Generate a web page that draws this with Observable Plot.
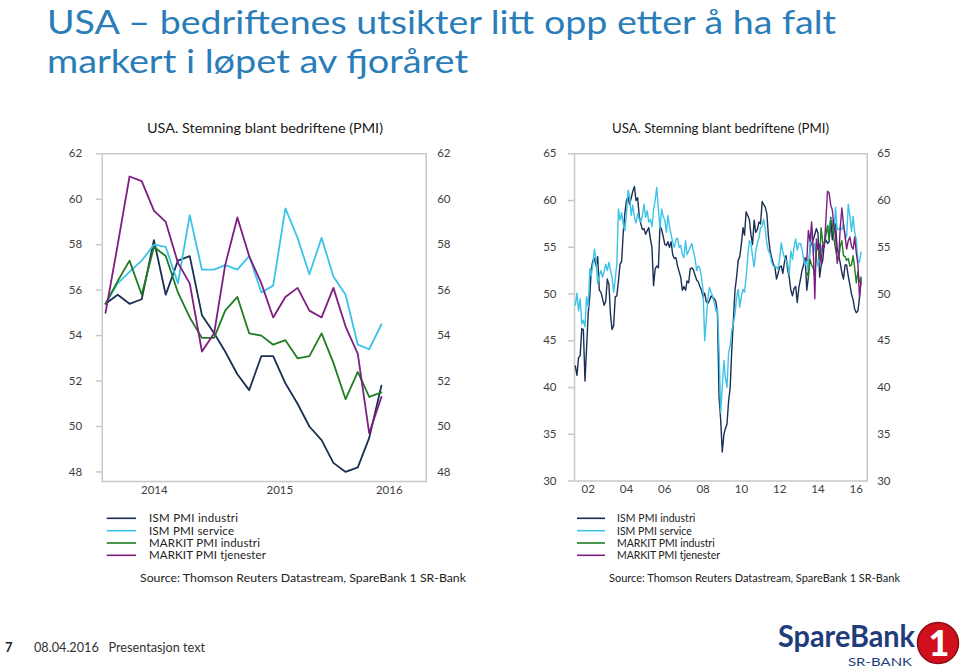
<!DOCTYPE html>
<html><head><meta charset="utf-8">
<script src="https://cdn.jsdelivr.net/npm/d3@7"></script>
<script src="https://cdn.jsdelivr.net/npm/@observablehq/plot@0.6"></script>
<style>
body{margin:0;background:#fff;width:960px;height:669px;position:relative;overflow:hidden;font-family:Lato,"Open Sans",sans-serif;}
.abs{position:absolute;}
</style></head><body>
<svg id="bg" class="abs" style="left:0;top:0" width="960" height="669"></svg>
<div id="left" class="abs" style="left:0;top:140px"></div>
<div id="right" class="abs" style="left:480px;top:140px"></div>
<script>
// ---------- DATA ----------
const pageTitle = ["USA – bedriftenes utsikter litt opp etter å ha falt", "markert i løpet av fjoråret"];
const chartTitle = "USA. Stemning blant bedriftene (PMI)";
const sourceText = "Source: Thomson Reuters Datastream, SpareBank 1 SR-Bank";
const footerNumber = "7";
const footerText = "08.04.2016   Presentasjon text";

const seriesNames = ["ISM PMI industri", "ISM PMI service", "MARKIT PMI industri", "MARKIT PMI tjenester"];
const seriesColors = ["#1b2f55", "#3cc3e8", "#1f7d22", "#7e1e80"];

// monthly values, ISM from Apr 2001 to Mar 2016
const ismStart = [2001, 3]; // April 2001 (month index 0-based)
const ismIndustri = [
  42.3, 41.3, 43.2, 43.4, 46.3, 46.2, 40.7, 44.2, 47.9,
  49.8, 52.7, 53.6, 53.8, 53.0, 54.0, 50.4, 50.2, 49.5, 48.8, 49.2, 51.6,
  51.0, 47.9, 46.2, 46.6, 49.7, 49.8, 51.4, 53.2, 53.5, 56.6, 58.6, 60.0,
  60.4, 59.6, 60.3, 61.0, 61.5, 60.0, 60.3, 58.3, 57.5, 56.9, 57.0, 56.4,
  56.8, 57.1, 55.9, 55.0, 50.9, 52.7, 53.0, 52.8, 57.3, 56.9, 56.2, 55.3,
  55.2, 55.6, 55.0, 55.6, 54.2, 53.8, 53.9, 53.0, 52.4, 51.8, 50.4, 50.8,
  50.4, 51.4, 51.2, 52.7, 52.8, 52.6, 52.0, 51.5, 51.3, 50.8, 50.4, 49.7,
  50.1, 49.2, 49.0, 49.3, 49.8, 49.6, 49.5, 49.2, 47.9, 39.0, 36.6, 33.1,
  35.0, 35.6, 36.1, 38.5, 40.0, 44.0, 47.2, 50.4, 51.8, 53.6, 54.0, 55.4,
  57.1, 56.3, 58.8, 58.4, 58.0, 56.4, 55.3, 57.9, 56.6, 56.9, 57.7, 57.5,
  59.9, 59.6, 59.3, 58.6, 56.1, 54.7, 53.9, 53.2, 52.9, 51.6, 52.2, 52.9,
  53.0, 52.2, 53.4, 54.1, 52.6, 51.8, 50.4, 49.8, 50.6, 50.8, 49.1, 50.7,
  51.6, 52.5, 53.1, 53.9, 50.4, 51.8, 55.0, 55.4, 55.8, 56.4, 57.0, 56.5,
  51.8, 53.0, 53.6, 55.4, 55.8, 55.4, 55.6, 58.2, 55.8, 57.3, 57.5, 54.9,
  54.1, 53.3, 52.3, 51.6, 53.1, 53.1, 51.9, 51.0, 50.0, 49.4, 48.4, 48.0,
  48.2, 49.5, 51.8
];
const ismService = [
  48.8, 50.1, 48.2, 49.5, 46.8, 47.2, 46.5, 49.7, 48.6,
  52.7, 52.0, 53.2, 54.8, 53.6, 51.1, 52.0, 52.5, 51.8, 52.4, 53.2, 52.5,
  53.4, 52.6, 51.8, 50.2, 51.6, 53.2, 59.1, 57.9, 58.7, 57.4, 56.8, 58.6,
  61.1, 60.5, 58.4, 59.5, 58.2, 57.6, 58.6, 58.0, 57.7, 58.4, 59.6, 58.2,
  58.9, 57.7, 58.0, 57.2, 59.0, 60.0, 61.4, 59.1, 57.0, 59.1, 58.3, 57.9,
  56.6, 58.4, 57.2, 56.4, 55.5, 55.0, 55.8, 56.0, 55.0, 55.2, 54.2, 53.9,
  55.7, 54.2, 54.6, 55.0, 55.4, 54.6, 53.8, 52.5, 53.0, 52.8, 51.8, 50.4,
  45.0, 47.2, 49.5, 50.7, 50.2, 49.8, 49.1, 48.2, 48.5, 44.0, 37.3, 40.1,
  42.9, 41.1, 40.0, 43.7, 44.5, 46.1, 46.8, 47.9, 49.6, 50.5, 48.6, 49.8,
  50.5, 50.2, 51.8, 53.9, 55.7, 55.5, 54.0, 52.9, 54.6, 55.4, 56.0, 57.1,
  57.3, 58.0, 57.0, 55.4, 54.6, 54.3, 53.4, 53.0, 52.9, 52.9, 52.6, 53.8,
  55.5, 54.5, 53.9, 53.6, 53.2, 52.1, 54.6, 53.7, 55.0, 55.9, 54.7, 55.4,
  55.4, 54.8, 53.8, 53.1, 53.7, 52.2, 55.4, 56.6, 54.2, 55.4, 53.9, 53.0,
  54.0, 54.6, 55.4, 55.4, 56.3, 56.8, 57.3, 58.0, 57.9, 56.3, 59.3, 56.9,
  56.9, 57.1, 56.9, 57.5, 55.9, 56.2, 59.6, 58.3, 56.7, 58.3, 56.6, 55.8,
  53.6, 53.4, 54.5
];
// Markit from May 2013 to Mar 2016
const markitStart = [2013, 4];
const markitIndustri = [
  52.3, 51.9, 53.7, 53.1, 52.8, 51.8, 54.7, 55.0,
  53.7, 57.1, 55.5, 55.4, 56.4, 57.3, 55.8, 57.9, 57.5, 55.9, 54.8, 53.9,
  53.9, 55.1, 55.7, 54.1, 54.0, 53.6, 53.8, 53.0, 53.1, 54.1, 52.8, 51.2,
  52.4, 51.3, 51.5
];
const markitTjenester = [
  53.6, 56.8, 55.6, 57.7, 55.0, 49.5, 55.9, 54.8,
  55.3, 53.2, 55.3, 55.0, 58.0, 61.0, 60.8, 59.5, 59.0, 57.2, 56.3, 53.3,
  54.1, 57.1, 59.2, 57.5, 56.3, 54.8, 55.7, 56.1, 55.1, 54.8, 56.1, 54.4,
  53.2, 49.7, 51.3
];

// left panel: last 24 months (from Apr 2014)
const leftFrom = [2014, 3];
const leftYTicks = [48, 50, 52, 54, 56, 58, 60, 62];
const leftYDomain = [47.58, 62];
const leftXDomain = ["2014-04-22T14:00Z", "2016-07-23T19:00Z"];
const leftXTicks = ["2014-09-02", "2015-07-18", "2016-04-21"];
const leftXLabels = ["2014", "2015", "2016"];

const rightYTicks = [30, 35, 40, 45, 50, 55, 60, 65];
const rightYDomain = [30, 65];
const rightXDomain = ["2001-04-15", "2016-07-27"];
const rightXTicks = ["2002-01-01", "2004-01-01", "2006-01-01", "2008-01-01", "2010-01-01", "2012-01-01", "2014-01-01", "2016-01-01"];
const rightXLabels = ["02", "04", "06", "08", "10", "12", "14", "16"];

// ---------- TABLE ----------
function rows(name, start, values) {
  const m0 = new Date(Date.UTC(start[0], start[1], 1));
  // monthly observations are stamped at month end (start of next month)
  return values.map((v, i) => ({series: name, month: d3.utcMonth.offset(m0, i), date: d3.utcMonth.offset(m0, i + 1), value: v}));
}
const all = [
  ...rows(seriesNames[0], ismStart, ismIndustri),
  ...rows(seriesNames[1], ismStart, ismService),
  ...rows(seriesNames[2], markitStart, markitIndustri),
  ...rows(seriesNames[3], markitStart, markitTjenester)
];
const leftCut = new Date(Date.UTC(leftFrom[0], leftFrom[1], 1));
const leftData = all.filter(d => d.month >= leftCut);

function panel({data, xDomain, xTicks, xLabels, yDomain, yTicks, margins, sw, tpL, tpR}) {
  const tks = xTicks.map(d => new Date(d));
  const lab = new Map(tks.map((d, i) => [+d, xLabels[i]]));
  return Plot.plot({
    width: 480, height: 361, ...margins,
    style: {fontFamily: "Lato, 'Open Sans', sans-serif", fontSize: "11.5px", color: "#404040", background: "transparent", overflow: "visible"},
    x: {type: "utc", domain: xDomain.map(d => new Date(d)), label: null},
    y: {domain: yDomain, label: null},
    color: {domain: seriesNames, range: seriesColors},
    marks: [
      Plot.frame({stroke: "#c8c8c8", strokeWidth: 1.5}),
      Plot.axisY({anchor: "left", ticks: yTicks, tickSize: 6, tickPadding: tpL, stroke: "#c8c8c8", strokeWidth: 1.5, fill: "#404040", label: null, tickFormat: d => String(d)}),
      Plot.axisY({anchor: "right", ticks: yTicks, tickSize: 0, tickPadding: tpR, fill: "#404040", label: null, tickFormat: d => String(d)}),
      Plot.axisX({ticks: tks, tickSize: 0, tickPadding: 4, fill: "#404040", label: null, tickFormat: d => lab.get(+d)}),
      Plot.line(data, {x: "date", y: "value", z: "series", stroke: "series", strokeWidth: sw, strokeLinejoin: "round"})
    ]
  });
}

document.getElementById("left").appendChild(panel({
  data: leftData, xDomain: leftXDomain, xTicks: leftXTicks, xLabels: leftXLabels,
  yDomain: leftYDomain, yTicks: leftYTicks,
  margins: {marginLeft: 101.7, marginRight: 54.3, marginTop: 13.3, marginBottom: 20},
  sw: 1.8, tpL: 14, tpR: 11
}));
document.getElementById("right").appendChild(panel({
  data: all, xDomain: rightXDomain, xTicks: rightXTicks, xLabels: rightXLabels,
  yDomain: rightYDomain, yTicks: rightYTicks,
  margins: {marginLeft: 94, marginRight: 93.3, marginTop: 13.3, marginBottom: 20.5},
  sw: 1.4, tpL: 12, tpR: 10
}));

// ---------- DECORATION (titles, legends, footer) ----------
const bg = d3.select("#bg");
const ff = "Lato, 'Open Sans', sans-serif";
bg.append("text").attr("x", 47).attr("y", 34).attr("font-family", ff).attr("font-size", 33).attr("fill", "#2a7db8")
  .attr("textLength", 789).attr("lengthAdjust", "spacingAndGlyphs").text(pageTitle[0]);
bg.append("text").attr("x", 47).attr("y", 73).attr("font-family", ff).attr("font-size", 33).attr("fill", "#2a7db8")
  .attr("textLength", 421).attr("lengthAdjust", "spacingAndGlyphs").text(pageTitle[1]);

[[147, 236], [612, 217]].forEach(([x, w]) => {
  bg.append("text").attr("x", x).attr("y", 133).attr("font-family", ff).attr("font-size", 14).attr("fill", "#1a1a1a")
    .attr("textLength", w).attr("lengthAdjust", "spacingAndGlyphs").text(chartTitle);
});

const legends = [
  {x1: 106.7, x2: 136, tx: 149, fs: 11.5, sx: 140, sw: 326, k: 1},
  {x1: 577, x2: 605, tx: 617, fs: 10.5, sx: 609, sw: 291, k: 0.88}
];
const labelW = [89, 85, 111, 117];
const rowY = [518.3, 530.7, 543, 555.3];
legends.forEach(L => {
  seriesNames.forEach((n, i) => {
    bg.append("line").attr("x1", L.x1).attr("x2", L.x2).attr("y1", rowY[i]).attr("y2", rowY[i])
      .attr("stroke", seriesColors[i]).attr("stroke-width", 1.6);
    bg.append("text").attr("x", L.tx).attr("y", rowY[i] + 4).attr("font-family", ff).attr("font-size", L.fs)
      .attr("fill", "#222").attr("textLength", labelW[i] * L.k).attr("lengthAdjust", "spacing").text(n);
  });
  bg.append("text").attr("x", L.sx).attr("y", 582).attr("font-family", ff).attr("font-size", L.fs)
    .attr("fill", "#222").attr("textLength", L.sw).attr("lengthAdjust", "spacingAndGlyphs").text(sourceText);
});

bg.append("text").attr("x", 5).attr("y", 652).attr("font-family", ff).attr("font-size", 13).attr("font-weight", 700)
  .attr("fill", "#222").text(footerNumber);
bg.append("text").attr("x", 34).attr("y", 652).attr("font-family", ff).attr("font-size", 13)
  .attr("fill", "#333").attr("textLength", 171).attr("lengthAdjust", "spacingAndGlyphs").attr("xml:space", "preserve")
  .style("white-space", "pre").text(footerText);

// logo
bg.append("text").attr("x", 778).attr("y", 647).attr("font-family", ff).attr("font-size", 30).attr("font-weight", 700)
  .attr("fill", "#1f3d7a").attr("textLength", 137).attr("lengthAdjust", "spacingAndGlyphs").text("SpareBank");
bg.append("text").attr("x", 848).attr("y", 665.5).attr("font-family", ff).attr("font-size", 11.5)
  .attr("fill", "#1f3d7a").attr("textLength", 64).attr("lengthAdjust", "spacingAndGlyphs").text("SR-BANK");
bg.append("circle").attr("cx", 938).attr("cy", 643).attr("r", 20.5).attr("fill", "#d0101c");
bg.append("circle").attr("cx", 938).attr("cy", 643).attr("r", 20.5).attr("fill", "none").attr("stroke", "#8e0a12").attr("stroke-width", 1.5);
bg.append("text").attr("x", 939).attr("y", 656).attr("text-anchor", "middle").attr("font-family", ff).attr("font-size", 36)
  .attr("font-weight", 900).attr("fill", "#fff").text("1");
</script>
</body></html>
